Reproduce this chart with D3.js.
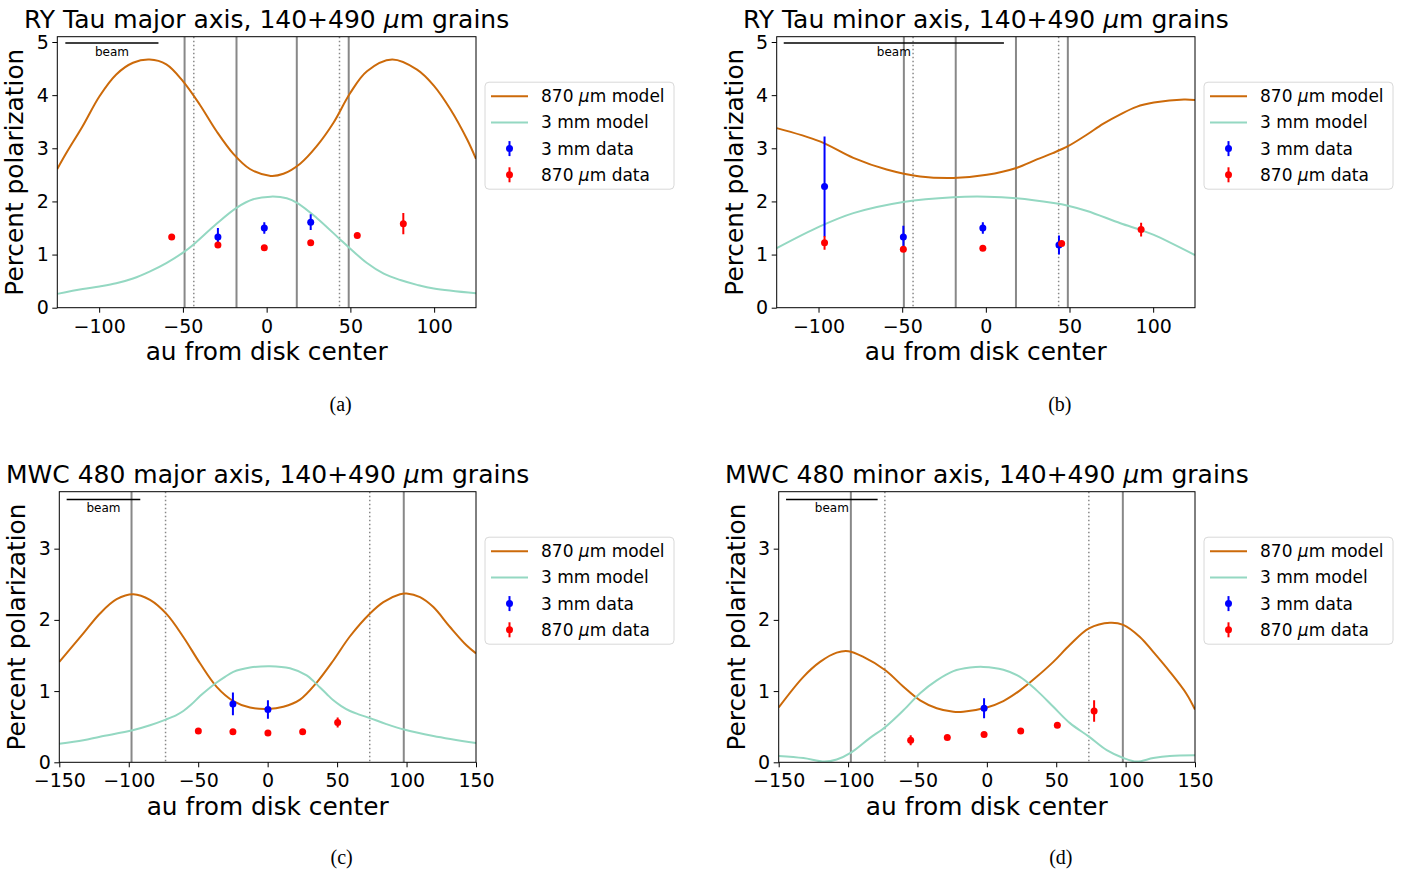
<!doctype html>
<html lang="en">
<head>
    <meta charset="UTF-8">
    <title>Polarization profiles</title>
    <script src="https://d3js.org/d3.v7.min.js"></script>
    <style>
      body { margin: 0; background: #fff; }
    </style>
</head>
<body>
    <svg width="1406" height="874" font-family="DejaVu Sans, sans-serif"></svg>

    <script>

      // Ticks
      const ticksRY = [-100, -50, 0, 50, 100];
      const ticksMWC = [-150, -100, -50, 0, 50, 100, 150];
      const yTicksRY = [0, 1, 2, 3, 4, 5];
      const yTicksMWC = [0, 1, 2, 3];

      // (a) RY Tau major axis
      const aModel870 = [[-125,2.61],[-119.8,2.90],[-109.8,3.42],[-99.8,3.98],[-89.8,4.39],[-79.8,4.61],[-69.9,4.67],[-59.9,4.58],[-49.9,4.26],[-39.9,3.82],[-29.9,3.32],[-20,2.90],[-10,2.61],[2.4,2.48],[10,2.52],[20,2.71],[29.9,3.04],[39.9,3.48],[49.9,4.04],[59.9,4.45],[74.9,4.67],[89.8,4.48],[99.8,4.18],[109.8,3.73],[119.8,3.16],[125,2.80]];
      const aModel3mm = [[-125,0.26],[-109.8,0.35],[-99.8,0.40],[-89.8,0.46],[-79.8,0.55],[-69.9,0.68],[-59.9,0.84],[-48.9,1.06],[-43.3,1.20],[-29.9,1.58],[-18,1.88],[-8,2.04],[2.4,2.09],[12,2.06],[18.4,1.97],[29.9,1.69],[43.7,1.29],[49.3,1.13],[59.9,0.84],[69.9,0.64],[79.8,0.52],[89.8,0.43],[99.8,0.36],[125,0.27]];
      const aData3mm = [[-29.1,1.33,0.17],[-1.4,1.50,0.11],[26.3,1.61,0.15]];
      const aData870 = [[-56.7,1.33,0.03],[-29.1,1.18,0.03],[-1.4,1.13,0.03],[26.3,1.22,0.03],[54.1,1.36,0.04],[81.6,1.58,0.20]];

      // (b) RY Tau minor axis
      const bModel870 = [[-125,3.38],[-99.2,3.13],[-79.2,2.82],[-59.3,2.60],[-39.3,2.47],[-19.4,2.44],[0.6,2.50],[18.2,2.63],[30.5,2.79],[40,2.91],[49.1,3.04],[60.5,3.26],[70,3.46],[80.4,3.64],[90,3.78],[100.4,3.86],[118.4,3.92],[125,3.91]];
      const bModel3mm = [[-125,1.12],[-99.2,1.53],[-79.2,1.78],[-49.3,1.99],[-19.4,2.08],[0.6,2.09],[18.2,2.06],[40.5,1.97],[49.1,1.92],[60.5,1.82],[80.4,1.59],[92.8,1.46],[100.4,1.37],[125,0.99]];
      const bData3mm = [[-96.4,2.28,0.94],[-49.3,1.33,0.21],[-1.8,1.50,0.11],[43.7,1.18,0.18]];
      const bData870 = [[-96.4,1.22,0.13],[-49.3,1.10,0.03],[-1.8,1.12,0.03],[45.3,1.21,0.03],[92.8,1.47,0.13]];

      // (c) MWC 480 major axis
      const cModel870 = [[-150,1.41],[-132.7,1.81],[-120.7,2.09],[-108.7,2.29],[-96.7,2.36],[-84.7,2.28],[-72.7,2.08],[-60.7,1.76],[-48.7,1.39],[-36.7,1.06],[-24.7,0.86],[-12.7,0.77],[0,0.75],[11.3,0.78],[23.3,0.88],[35.3,1.12],[47.3,1.43],[59.3,1.77],[73.7,2.09],[83.3,2.25],[95.3,2.36],[100,2.37],[109.7,2.32],[119.3,2.18],[131.3,1.90],[143.3,1.64],[150,1.53]];
      const cModel3mm = [[-150,0.26],[-132.7,0.31],[-120.7,0.36],[-97.2,0.45],[-84.7,0.52],[-73.4,0.60],[-66,0.66],[-60.7,0.72],[-55,0.81],[-48.7,0.93],[-42.7,1.03],[-36.7,1.12],[-30.7,1.20],[-24.7,1.27],[-12.7,1.33],[1.7,1.35],[16.1,1.32],[28.1,1.22],[33,1.14],[37.7,1.05],[42.5,0.96],[47.3,0.87],[53,0.79],[59.3,0.72],[66,0.67],[73.7,0.62],[85,0.54],[98.2,0.46],[119.3,0.37],[150,0.27]];
      const cData3mm = [[-25,0.82,0.16],[0.2,0.74,0.13]];
      const cData870 = [[-49.9,0.44,0.04],[-25,0.43,0.03],[0.2,0.41,0.03],[25.2,0.43,0.03],[50.4,0.56,0.07]];

      // (d) MWC 480 minor axis
      const dModel870 = [[-150,0.77],[-132.2,1.20],[-120.2,1.41],[-108.2,1.54],[-99.8,1.56],[-89,1.48],[-72.9,1.29],[-60.1,1.06],[-48.1,0.87],[-36.1,0.76],[-24.1,0.71],[-17,0.71],[-0.1,0.77],[11.9,0.86],[23.9,1.01],[35.9,1.20],[47.9,1.41],[59.9,1.65],[73.6,1.88],[88.7,1.96],[98.3,1.93],[110.3,1.76],[119.9,1.55],[131.9,1.27],[143.9,0.96],[150,0.74]];
      const dModel3mm = [[-150,0.09],[-132.2,0.06],[-117.1,0.01],[-108.2,0.04],[-97.6,0.14],[-84.4,0.34],[-72.9,0.50],[-60.1,0.73],[-48.1,0.97],[-36.1,1.15],[-24.1,1.28],[-12.1,1.33],[-2.5,1.34],[11.9,1.30],[23.9,1.20],[35.9,1.01],[47.9,0.78],[59.9,0.55],[73.6,0.36],[86.4,0.17],[98.3,0.06],[107.9,0.01],[119.9,0.06],[131.9,0.09],[150,0.10]];
      const dData3mm = [[-2,0.76,0.14]];
      const dData870 = [[-54.9,0.31,0.07],[-28.5,0.35,0.03],[-2,0.39,0.03],[24.4,0.44,0.03],[50.8,0.52,0.04],[77.3,0.72,0.15]];

      // Vertical guide lines and beam extents
      const ryRings = [-49, -18, 18, 49];
      const ryDotted = [-43.5, 43.5];
      const mwcRings = [-98, 98];
      const mwcDotted = [-73.5, 73.5];

      const legendLabels = ["870 \u03bcm model", "3 mm model", "3 mm data", "870 \u03bcm data"];

      const orange = "#cc6a0a";
      const teal = "#94d8c2";

      const svg = d3.select("svg");

      const panels = [
        { title: "RY Tau major axis, 140+490 ", left: 57.3, right: 476, top: 36.7, bottom: 307.7,
          xdom: [-125, 125], ydom: [0, 5.1], xticks: ticksRY, yticks: yTicksRY,
          m870: aModel870, m3: aModel3mm, d3mm: aData3mm, d870: aData870,
          rings: ryRings, dotted: ryDotted, beam: [-120.2, -64.6], beamY: 4.98, cap: "(a)", capY: 405 },
        { title: "RY Tau minor axis, 140+490 ", left: 776.7, right: 1195, top: 36.7, bottom: 307.7,
          xdom: [-125, 125], ydom: [0, 5.1], xticks: ticksRY, yticks: yTicksRY,
          m870: bModel870, m3: bModel3mm, d3mm: bData3mm, d870: bData870,
          rings: ryRings, dotted: ryDotted, beam: [-120.8, 10.8], beamY: 4.98, cap: "(b)", capY: 405 },
        { title: "MWC 480 major axis, 140+490 ", left: 59.3, right: 476, top: 491.7, bottom: 762.3,
          xdom: [-150, 150], ydom: [0, 3.8], xticks: ticksMWC, yticks: yTicksMWC,
          m870: cModel870, m3: cModel3mm, d3mm: cData3mm, d870: cData870,
          rings: mwcRings, dotted: mwcDotted, beam: [-144.7, -91.7], beamY: 3.69, cap: "(c)", capY: 858 },
        { title: "MWC 480 minor axis, 140+490 ", left: 778.7, right: 1195, top: 491.7, bottom: 762.3,
          xdom: [-150, 150], ydom: [0, 3.8], xticks: ticksMWC, yticks: yTicksMWC,
          m870: dModel870, m3: dModel3mm, d3mm: dData3mm, d870: dData870,
          rings: mwcRings, dotted: mwcDotted, beam: [-144.7, -78.7], beamY: 3.69, cap: "(d)", capY: 858 }
      ];

      panels.forEach(drawPanel);

      function drawPanel(p) {
        const x = d3.scaleLinear().domain(p.xdom).range([p.left, p.right]);
        const y = d3.scaleLinear().domain(p.ydom).range([p.bottom, p.top]);
        const g = svg.append("g");

        // clip so curves stay in the axes
        const clipId = "clip" + p.cap.replace(/\W/g, "");
        g.append("clipPath").attr("id", clipId)
          .append("rect")
            .attr("x", p.left).attr("y", p.top)
            .attr("width", p.right - p.left).attr("height", p.bottom - p.top);

        const plot = g.append("g").attr("clip-path", "url(#" + clipId + ")");

        // ring and gap lines
        plot.selectAll(".ring").data(p.rings).join("line")
            .attr("x1", d => x(d)).attr("x2", d => x(d))
            .attr("y1", p.top).attr("y2", p.bottom)
            .attr("stroke", "#888").attr("stroke-width", 2);
        plot.selectAll(".gap").data(p.dotted).join("line")
            .attr("x1", d => x(d)).attr("x2", d => x(d))
            .attr("y1", p.top).attr("y2", p.bottom)
            .attr("stroke", "#888").attr("stroke-width", 1.5)
            .attr("stroke-dasharray", "1.5,2.5");

        // beam bar
        plot.append("line")
            .attr("x1", x(p.beam[0])).attr("x2", x(p.beam[1]))
            .attr("y1", y(p.beamY)).attr("y2", y(p.beamY))
            .attr("stroke", "#000").attr("stroke-width", 1.5);
        g.append("text")
            .attr("x", (x(p.beam[0]) + x(p.beam[1])) / 2)
            .attr("y", y(p.beamY) + 12.5)
            .attr("text-anchor", "middle")
            .attr("font-size", 12)
            .text("beam");

        // model curves
        const line = d3.line().x(d => x(d[0])).y(d => y(d[1])).curve(d3.curveCatmullRom.alpha(0.5));
        plot.append("path").datum(p.m870)
            .attr("d", line).attr("fill", "none")
            .attr("stroke", orange).attr("stroke-width", 2);
        plot.append("path").datum(p.m3)
            .attr("d", line).attr("fill", "none")
            .attr("stroke", teal).attr("stroke-width", 2);

        // data points with error bars
        [[p.d3mm, "#0000ff"], [p.d870, "#ff0000"]].forEach(([pts, col]) => {
          plot.selectAll(null).data(pts).join("line")
              .attr("x1", d => x(d[0])).attr("x2", d => x(d[0]))
              .attr("y1", d => y(d[1] - d[2])).attr("y2", d => y(d[1] + d[2]))
              .attr("stroke", col).attr("stroke-width", 2);
          plot.selectAll(null).data(pts).join("circle")
              .attr("cx", d => x(d[0])).attr("cy", d => y(d[1]))
              .attr("r", 3.5).attr("fill", col);
        });

        // axes
        const xAxis = d3.axisBottom(x).tickValues(p.xticks).tickSize(5).tickPadding(6.5)
            .tickFormat(d => d < 0 ? "\u2212" + Math.abs(d) : d);
        const yAxis = d3.axisLeft(y).tickValues(p.yticks).tickSize(5).tickPadding(3.5)
            .tickFormat(d3.format("d"));

        const gx = g.append("g").attr("transform", "translate(0," + p.bottom + ")").call(xAxis);
        const gy = g.append("g").attr("transform", "translate(" + p.left + ",0)").call(yAxis);
        [gx, gy].forEach(a => {
          a.attr("font-family", null).attr("font-size", null);
          a.select(".domain").remove();
          a.selectAll("text").attr("font-size", 19).attr("fill", "#000");
          a.selectAll("line").attr("stroke", "#000");
        });

        g.append("rect")
            .attr("x", p.left).attr("y", p.top)
            .attr("width", p.right - p.left).attr("height", p.bottom - p.top)
            .attr("fill", "none").attr("stroke", "#000").attr("stroke-width", 1);

        // labels
        const mid = (p.left + p.right) / 2;
        const title = g.append("text")
            .attr("x", mid).attr("y", p.top - 8.5)
            .attr("text-anchor", "middle")
            .attr("font-size", 25);
        title.append("tspan").text(p.title);
        title.append("tspan").attr("font-style", "italic").text("\u03bc");
        title.append("tspan").text("m grains");

        g.append("text")
            .attr("x", mid).attr("y", p.bottom + 52.5)
            .attr("text-anchor", "middle")
            .attr("font-size", 24.8)
            .text("au from disk center");

        g.append("text")
            .attr("transform", "translate(" + (p.left - 34) + "," + ((p.top + p.bottom) / 2) + ") rotate(-90)")
            .attr("text-anchor", "middle")
            .attr("font-size", 24.8)
            .text("Percent polarization");

        g.append("text")
            .attr("x", mid + 74)
            .attr("y", p.capY + 6)
            .attr("text-anchor", "middle")
            .attr("font-family", "Liberation Serif, serif")
            .attr("font-size", 20)
            .text(p.cap);

        // legend
        const lx = p.right + 9, ly = p.top + 45.5;
        const leg = g.append("g").attr("transform", "translate(" + lx + "," + ly + ")");
        leg.append("rect")
            .attr("width", 189).attr("height", 107).attr("rx", 4)
            .attr("fill", "#fff").attr("stroke", "#d8d8d8").attr("stroke-width", 1);
        legendLabels.forEach((lab, i) => {
          const cy = 14 + i * 26.2;
          if (i < 2) {
            leg.append("line")
                .attr("x1", 6).attr("x2", 43).attr("y1", cy).attr("y2", cy)
                .attr("stroke", i === 0 ? orange : teal).attr("stroke-width", 2);
          } else {
            const col = i === 2 ? "#0000ff" : "#ff0000";
            leg.append("line")
                .attr("x1", 24.5).attr("x2", 24.5).attr("y1", cy - 7.5).attr("y2", cy + 7.5)
                .attr("stroke", col).attr("stroke-width", 2);
            leg.append("circle").attr("cx", 24.5).attr("cy", cy).attr("r", 3.5).attr("fill", col);
          }
          const t = leg.append("text")
              .attr("x", 56).attr("y", cy + 6)
              .attr("font-size", 17);
          const parts = lab.split("\u03bc");
          if (parts.length > 1) {
            t.append("tspan").text(parts[0]);
            t.append("tspan").attr("font-style", "italic").text("\u03bc");
            t.append("tspan").text(parts[1]);
          } else {
            t.text(lab);
          }
        });
      }

    </script>

</body>
</html>
